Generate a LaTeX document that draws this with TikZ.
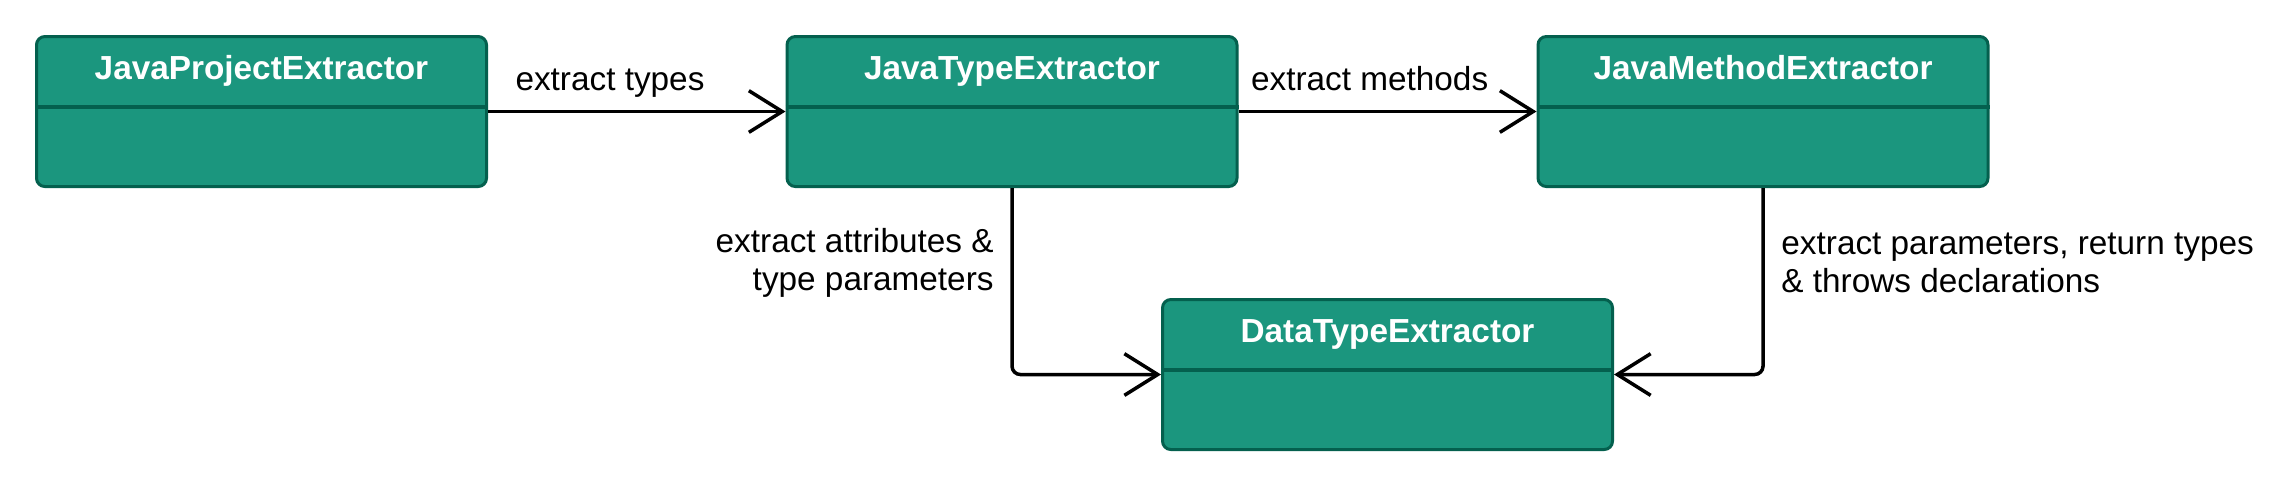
\documentclass[tikz,border=0pt]{standalone}
\usepackage{fontspec}
\setmainfont{Liberation Sans}
\usetikzlibrary{arrows.meta}
\definecolor{boxFill}{RGB}{27,150,126}
\definecolor{boxLine}{RGB}{4,96,78}

\begin{document}
\begin{tikzpicture}
[x=0.3pt,y=-0.3pt,
  classDecorate/.style={shape=rectangle,rounded corners=2.5pt,draw=boxLine,line width=0.9pt,
    fill=boxFill,minimum width=135pt,minimum height=45pt,inner sep=0pt},
  titleDecorate/.style={anchor=base,text=white,inner sep=0pt,font=\bfseries\fontsize{10}{12}\selectfont},
  dividerDecorate/.style={draw=boxLine,line width=1pt},
  lineDecorate/.style={-{Straight Barb[length=10pt,width=12.5pt]},line width=1.05pt,rounded corners=2.5pt},
  labelDecorate/.style={inner sep=0pt,font=\fontsize{10}{11.5}\selectfont}]
\useasboundingbox (0,0) rectangle (2278,495);
%% classes
\foreach \nodename/\x/\y/\title in {
  jpe/261.5/111.5/JavaProjectExtractor, jte/1012/111.5/JavaTypeExtractor,
  jme/1763/111.5/JavaMethodExtractor, dte/1387.5/374.5/DataTypeExtractor}
{
  \node (\nodename) at (\x,\y) [classDecorate] {};
  \draw[dividerDecorate] ([yshift=-21.6pt]\nodename.north west) -- ([yshift=-21.6pt]\nodename.north east);
  \node at ([yshift=-13.2pt]\nodename.north) [titleDecorate] {\title};
}
%% connectors
\draw[lineDecorate] (jpe) -- node[labelDecorate,pos=0.41,anchor=base,yshift=6.3pt] {extract types} (jte);
\draw[lineDecorate] (jte) -- node[labelDecorate,pos=0.44,anchor=base,yshift=6.3pt] {extract methods} (jme);
\draw[lineDecorate] (jte) |- node[labelDecorate,pos=0.2,left=5pt,align=right]
  {extract attributes \&\\type parameters} (dte);
\draw[lineDecorate] (jme) |- node[labelDecorate,pos=0.2,right=5pt,align=left]
  {extract parameters, return types\\\& throws declarations} (dte);
\end{tikzpicture}
\end{document}
